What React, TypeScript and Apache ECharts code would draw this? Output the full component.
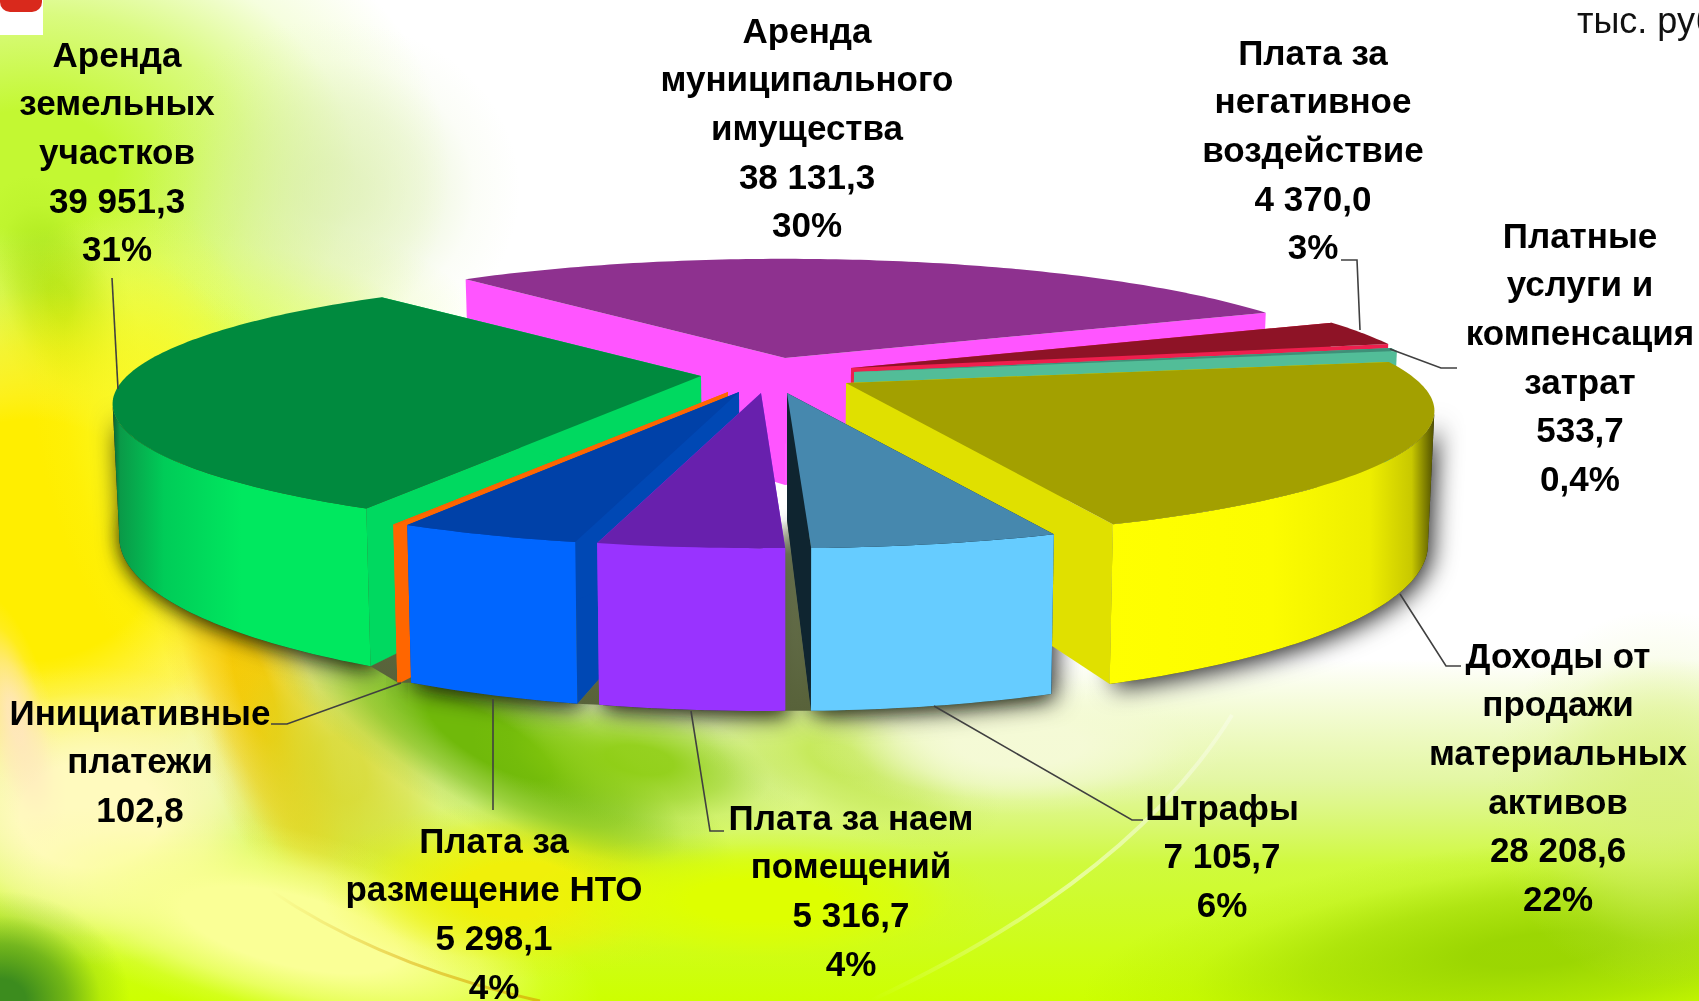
import React, { useEffect, useRef } from "react";
import * as echarts from "echarts";

const categories = [
  "Аренда муниципального имущества",
  "Плата за негативное воздействие",
  "Платные услуги и компенсация затрат",
  "Доходы от продажи материальных активов",
  "Штрафы",
  "Плата за наем помещений",
  "Плата за размещение НТО",
  "Инициативные платежи",
  "Аренда земельных участков",
];
const values = [38131.3, 4370.0, 533.7, 28208.6, 7105.7, 5316.7, 5298.1, 102.8, 39951.3];
const percents = ["30%", "3%", "0,4%", "22%", "6%", "4%", "4%", "", "31%"];
const labelLines = [
  ["Аренда", "муниципального", "имущества"],
  ["Плата за", "негативное", "воздействие"],
  ["Платные", "услуги и", "компенсация", "затрат"],
  ["Доходы от", "продажи", "материальных", "активов"],
  ["Штрафы"],
  ["Плата за наем", "помещений"],
  ["Плата за", "размещение НТО"],
  ["Инициативные", "платежи"],
  ["Аренда", "земельных", "участков"],
];
const unitLabel = "тыс. руб.";

// ---- layout and style ----
const W = 1699;
const H = 1001;
const START = -130.5;
const RX = 574, B = 121, C = 0.22, DEPTH = 127;
const TANGENT = (Math.asin(C) * 180) / Math.PI;
const apexes = [[785, 358], [851, 368], [854, 372], [846, 383], [787, 393], [761, 393], [739, 392], [728, 392], [701, 376]];
const ranks = [0, 1, 2, 3, 8, 7, 6, 5, 4];
const topColors = ["#8E318F", "#8E1326", "#3E9078", "#A3A000", "#4688AE", "#6820AD", "#0041A8", "#F56400", "#008A3E"];
const cutColors = ["#FF55FF", "#EE1F4E", "#52BD98", "#E0E000", "#0F2530", "#9933FF", "#0048B4", "#FF6600", "#00D960"];
const flat = (c: string) => c;
const hgrad = (stops: [number, string][]) => ({
  type: "linear", x: 0, y: 0, x2: 1, y2: 0,
  colorStops: stops.map(([offset, color]) => ({ offset, color })),
});
const wallFills: any[] = [
  flat("#FF55FF"), flat("#EE1F4E"), flat("#52BD98"),
  hgrad([[0, "#FFFF00"], [0.5, "#FCFC00"], [0.8, "#EEEE00"], [0.93, "#C8C800"], [1, "#4E4E00"]]),
  flat("#66CCFF"), flat("#9933FF"), flat("#0066FF"), flat("#FF6600"),
  hgrad([[0, "#0B5E30"], [0.03, "#0A9A48"], [0.2, "#00CC58"], [0.5, "#00E85F"], [1, "#00E85F"]]),
];
const labelPos = [[807, 30], [1313, 52], [1580, 235], [1558, 655], [1222, 807], [851, 817], [494, 840], [140, 712], [117, 54]];
const leaders = [
  [[0, 0]],
  [[1341, 260], [1357, 260], [1360, 330]],
  [[1390, 349], [1441, 368], [1457, 368]],
  [[1400, 594], [1446, 666], [1461, 666]],
  [[934, 706], [1132, 820], [1143, 820]],
  [[691, 711], [710, 831], [724, 831]],
  [[493, 699], [493, 810]],
  [[401, 683], [287, 724], [271, 724]],
  [[112, 278], [118, 389]],
];
const STEP = 48.7;
const FONT = 'bold 35px "Liberation Sans", Arial, sans-serif';

const total = values.reduce((a, b) => a + b, 0);
function sliceAngles(i: number) {
  let s = START;
  for (let k = 0; k < i; k++) s += (values[k] / total) * 360;
  return [s, s + (values[i] / total) * 360];
}
function project(a: number[], deg: number, radius: number, low: boolean) {
  const t = (deg * Math.PI) / 180;
  const X = Math.cos(t) * radius, Z = Math.sin(t) * radius;
  const s = 1 / (1 - C * Z);
  let x = a[0] + RX * X * s;
  let y = a[1] + B * Z * s;
  if (low) {
    y += DEPTH * s;
    x = 790 + (x - 790) * 0.99;
  }
  return [x, y];
}
function arc(a: number[], t0: number, t1: number, low: boolean) {
  const n = Math.max(4, Math.ceil(Math.abs(t1 - t0)));
  const pts: number[][] = [];
  for (let k = 0; k <= n; k++) pts.push(project(a, t0 + ((t1 - t0) * k) / n, 1, low));
  return pts;
}
function fmt(v: number) {
  const [i, d] = v.toFixed(1).split(".");
  return i.replace(/\B(?=(\d{3})+$)/g, " ") + "," + d;
}

function renderSlice(params: any, api: any) {
  const i = params.dataIndex;
  api.value(1);
  const [t0, t1] = sliceAngles(i);
  const a = apexes[i];
  const base = 10 + ranks[i] * 10;
  const apexTop = project(a, 0, 0, false);
  const apexLow = project(a, 0, 0, true);
  const top = arc(a, t0, t1, false);
  const low = arc(a, t0, t1, true);
  const kids: any[] = [];
  const vis0 = Math.max(t0, TANGENT), vis1 = Math.min(t1, 180 - TANGENT);
  if (vis1 > vis0) {
    const wall = [...arc(a, vis0, vis1, false), ...arc(a, vis0, vis1, true).reverse()];
    // soft shadow on the floor, below every slice
    kids.push({
      type: "polygon", z2: 1,
      shape: { points: wall },
      style: { fill: "#222", shadowBlur: 24, shadowColor: "rgba(0,0,0,0.85)", shadowOffsetY: 5, shadowOffsetX: 4 },
    });
    if (i >= 4) {
      kids.push({
        type: "polygon", z2: 2,
        shape: { points: [apexLow, ...low] },
        style: { fill: "rgba(72,82,44,0.9)", shadowBlur: 16, shadowColor: "rgba(40,50,20,0.6)" },
      });
    }
    if (i >= 5) {
      // the floor in the gap between this slice and the one before it lies in shade
      const prevA = apexes[i - 1];
      const prevLow = project(prevA, t0, 1, true);
      kids.push({
        type: "polygon", z2: 2,
        shape: { points: [apexLow, low[0], prevLow, project(prevA, 0, 0, true)] },
        style: {
          fill: {
            type: "linear", x: 0, y: 0, x2: 0, y2: 1,
            colorStops: [
              { offset: 0, color: "rgba(90,100,60,0)" },
              { offset: 0.18, color: "rgba(92,102,64,0.85)" },
              { offset: 1, color: "rgba(88,98,58,1)" },
            ],
          },
        },
      });
    }
    kids.push({
      type: "polygon", z2: base + 2,
      shape: { points: wall },
      style: { fill: wallFills[i] },
    });
  }
  kids.push({
    type: "polygon", z2: base,
    shape: { points: [apexTop, top[0], low[0], apexLow] },
    style: { fill: cutColors[i] },
  });
  kids.push({
    type: "polygon", z2: base + 1,
    shape: { points: [apexTop, top[top.length - 1], low[low.length - 1], apexLow] },
    style: { fill: cutColors[i] },
  });
  kids.push({
    type: "polygon", z2: base + 3,
    shape: { points: [apexTop, ...top] },
    style: { fill: topColors[i] },
  });
  return { type: "group", children: kids };
}

function renderLabel(params: any, api: any) {
  const i = params.dataIndex;
  const v = api.value(1);
  const lines = [...labelLines[i], fmt(v)];
  if (percents[i]) lines.push(percents[i]);
  const [cx, y0] = labelPos[i];
  const kids: any[] = lines.map((t, k) => ({
    type: "text",
    style: {
      text: t, x: cx, y: y0 + k * STEP, font: FONT, fill: "#000",
      textAlign: "center", textVerticalAlign: "middle", textBaseline: "middle",
    },
  }));
  if (leaders[i].length > 1) {
    kids.push({
      type: "polyline",
      shape: { points: leaders[i] },
      style: { stroke: "#404040", lineWidth: 1.6, fill: "none" },
    });
  }
  return { type: "group", children: kids };
}

function blob(cx: number, cy: number, rx: number, ry: number, deg: number, color: string, solid = 0.15) {
  const m = color.match(/[\d.]+/g)!;
  const al = m[3] === undefined ? 1 : parseFloat(m[3]);
  const rgba = (k: number) => `rgba(${m[0]},${m[1]},${m[2]},${al * k})`;
  return {
    type: "ellipse", x: cx, y: cy, rotation: (deg * Math.PI) / 180, silent: true,
    shape: { cx: 0, cy: 0, rx, ry },
    style: {
      fill: {
        type: "radial", x: 0.5, y: 0.5, r: 0.5,
        colorStops: [
          { offset: 0, color: rgba(1) }, { offset: solid, color: rgba(1) },
          { offset: solid + (1 - solid) * 0.4, color: rgba(0.62) },
          { offset: solid + (1 - solid) * 0.72, color: rgba(0.16) },
          { offset: 1, color: rgba(0) },
        ],
      },
    },
  };
}
function vrect(y0: number, y1: number, stops: [number, string][]) {
  return {
    type: "rect", silent: true,
    shape: { x: 0, y: y0, width: W, height: y1 - y0 },
    style: {
      fill: { type: "linear", x: 0, y: 0, x2: 0, y2: 1, colorStops: stops.map(([offset, color]) => ({ offset, color })) },
    },
  };
}
const background: any[] = [
  { type: "rect", silent: true, shape: { x: 0, y: 0, width: W, height: H }, style: { fill: "#FFFFFF" } },
  vrect(660, 1001, [[0, "rgba(205,240,60,0)"], [0.35, "rgba(205,240,90,0.55)"], [0.6, "rgba(205,250,50,0.95)"], [1, "rgba(205,255,0,1)"]]),
  blob(1540, 950, 460, 110, 6, "rgba(150,210,0,0.9)"),
  blob(1660, 800, 170, 190, 0, "rgba(215,240,120,0.75)"),
  blob(30, 170, 420, 300, 0, "rgba(195,248,50,1)", 0.2),
  blob(190, 340, 300, 130, 0, "rgba(222,255,90,0.95)"),
  blob(330, 190, 190, 170, 0, "rgba(215,235,170,0.6)"),
  blob(60, 300, 70, 130, 20, "rgba(165,225,20,0.85)"),
  blob(30, 540, 330, 300, 0, "rgba(255,238,0,1)", 0.4),
  blob(170, 450, 130, 280, 14, "rgba(250,250,40,0.9)"),
  blob(90, 815, 200, 150, 0, "rgba(255,250,190,1)", 0.35),
  blob(15, 720, 40, 130, 15, "rgba(255,230,190,0.9)"),
  blob(255, 690, 75, 270, 20, "rgba(246,200,0,0.95)", 0.2),
  blob(340, 770, 120, 170, 25, "rgba(215,215,40,0.8)", 0.2),
  blob(290, 930, 320, 100, -14, "rgba(250,255,150,1)", 0.35),
  blob(520, 890, 200, 90, 0, "rgba(240,240,10,1)", 0.3),
  blob(490, 740, 280, 85, -30, "rgba(112,185,10,1)", 0.25),
  blob(640, 760, 170, 70, -10, "rgba(140,205,15,0.9)", 0.2),
  blob(840, 760, 170, 70, -20, "rgba(190,230,70,0.8)", 0.2),
  blob(760, 900, 240, 70, 0, "rgba(222,255,0,1)", 0.3),
  blob(1020, 745, 210, 70, 0, "rgba(245,250,215,0.95)", 0.3),
  blob(0, 1001, 130, 110, 0, "rgba(60,140,30,1)", 0.2),
  {
    type: "bezierCurve", silent: true,
    shape: { x1: 270, y1: 890, x2: 540, y2: 1001, cpx1: 380, cpy1: 965 },
    style: {
      stroke: { type: "linear", x: 0, y: 0, x2: 1, y2: 0, colorStops: [{ offset: 0, color: "rgba(215,160,0,0)" }, { offset: 0.5, color: "rgba(215,160,0,0.45)" }, { offset: 1, color: "rgba(215,160,0,0.65)" }] },
      lineWidth: 3, fill: "none",
    },
  },
  {
    type: "bezierCurve", silent: true,
    shape: { x1: 1232, y1: 715, x2: 870, y2: 1001, cpx1: 1130, cpy1: 880 },
    style: {
      stroke: { type: "linear", x: 0, y: 1, x2: 1, y2: 0, colorStops: [{ offset: 0, color: "rgba(255,255,255,0)" }, { offset: 0.5, color: "rgba(255,255,255,0.5)" }, { offset: 1, color: "rgba(255,255,255,0.3)" }] },
      lineWidth: 4, fill: "none",
    },
  },
  { type: "rect", silent: true, shape: { x: 0, y: 0, width: 43, height: 35 }, style: { fill: "#FFFFFF" } },
  { type: "rect", silent: true, shape: { x: 0, y: -12, width: 42, height: 24, r: 10 }, style: { fill: "#D9291C" } },
];

export default function App() {
  const ref = useRef<HTMLDivElement>(null);
  useEffect(() => {
    const chart = echarts.init(ref.current!, undefined, { renderer: "svg" });
    const data = values.map((v, i) => ({ name: categories[i], value: [i, v] }));
    chart.setOption({
      animation: false,
      graphic: {
        elements: [
          ...background,
          {
            type: "text", z: 6, silent: true,
            style: { text: unitLabel, x: 1577, y: 20, font: '36px "Liberation Sans", Arial, sans-serif', fill: "#111", textVerticalAlign: "middle", textBaseline: "middle" },
          },
        ],
      },
      series: [
        { type: "custom", coordinateSystem: "none", silent: true, z: 2, renderItem: renderSlice, data },
        { type: "custom", coordinateSystem: "none", silent: true, z: 5, renderItem: renderLabel, data },
      ],
    });
    return () => chart.dispose();
  }, []);
  return <div ref={ref} style={{ position: "fixed", left: 0, top: 0, width: W, height: H }} />;
}
